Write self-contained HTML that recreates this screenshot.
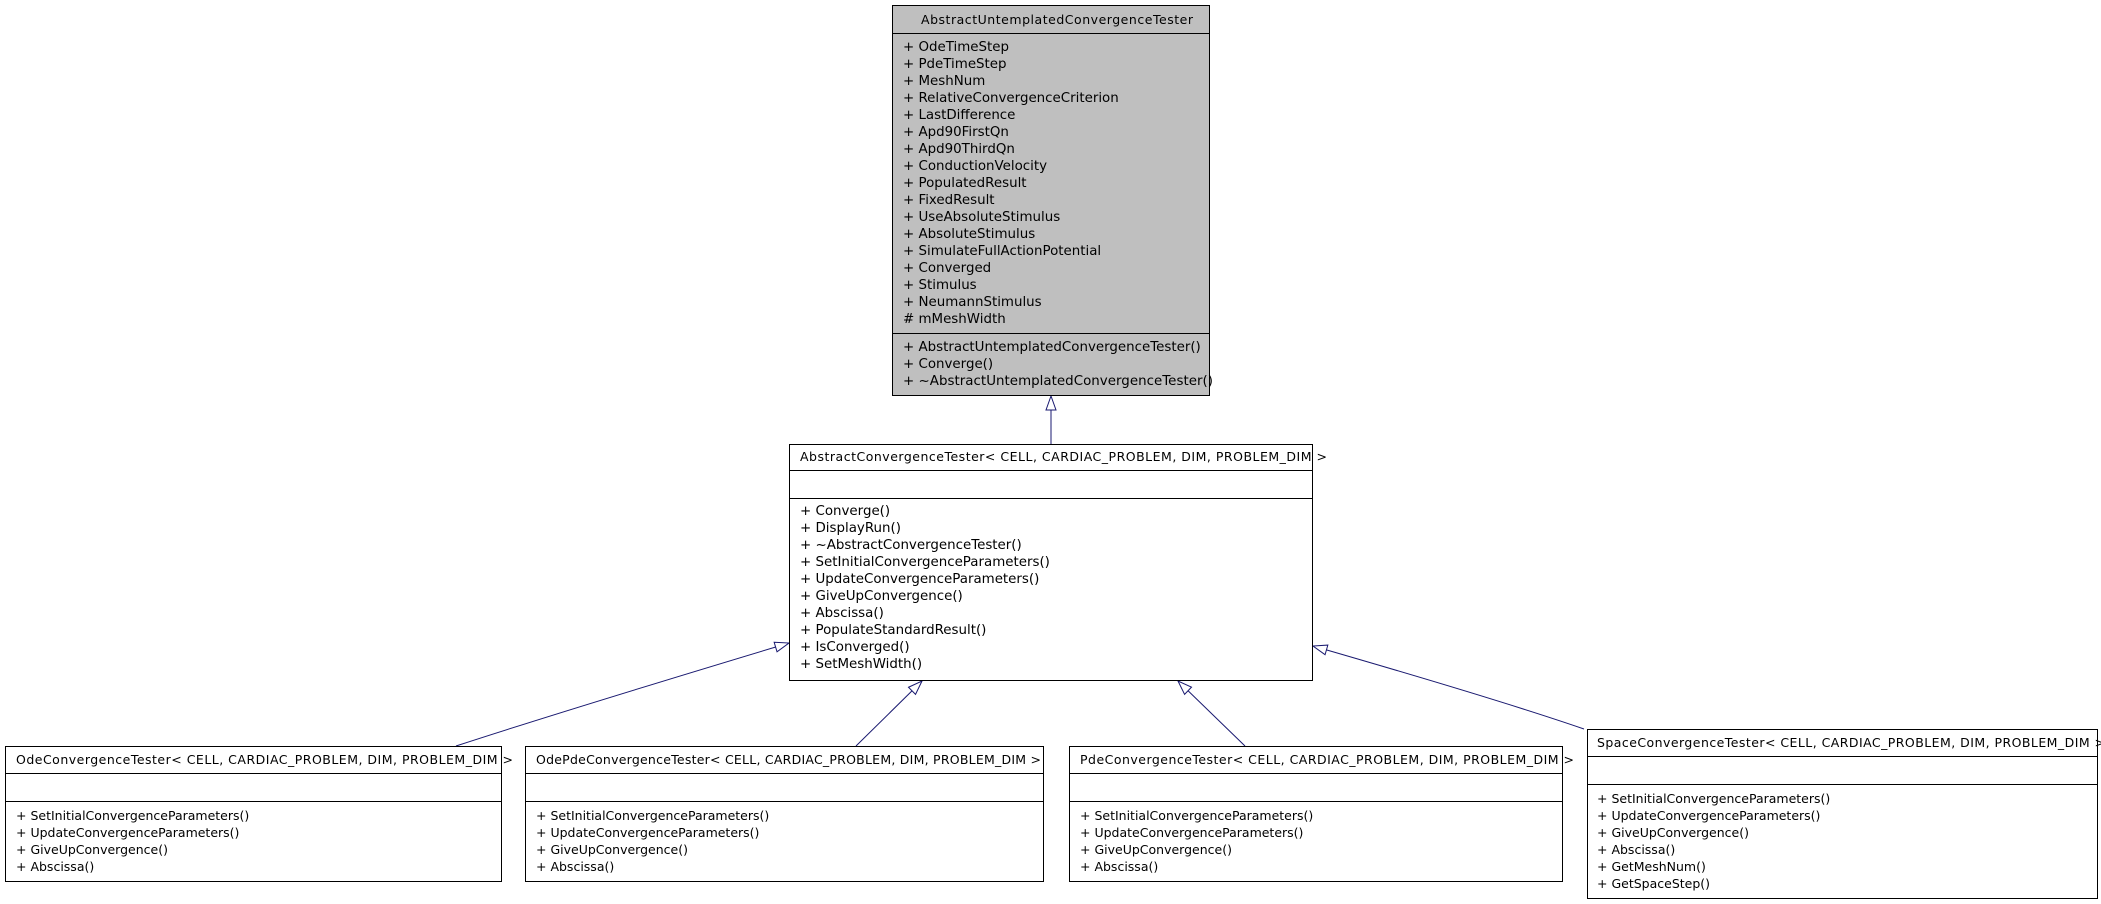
<!DOCTYPE html>
<html><head><meta charset="utf-8"><style>
html,body{margin:0;padding:0;background:#fff;}
svg{display:block;}
text{font-family:"DejaVu Sans","Liberation Sans",sans-serif;font-size:12.5px;fill:#000;}
.big text{font-size:13.4px;}
</style></head><body>
<svg width="2101" height="904" viewBox="0 0 2101 904" xmlns="http://www.w3.org/2000/svg">
<defs>
<marker id="ah" markerWidth="16" markerHeight="12" refX="15" refY="6" orient="auto" markerUnits="userSpaceOnUse">
<path d="M1,1 L15,6 L1,11 Z" fill="#fff" stroke="#191970" stroke-width="1"/>
</marker>
</defs>
<g stroke="#191970" stroke-width="1" fill="none">
<line x1="1051" y1="444" x2="1051" y2="396" marker-end="url(#ah)"/>
<path d="M456,746 Q560,712 789,643" marker-end="url(#ah)"/>
<line x1="856" y1="746" x2="922" y2="681" marker-end="url(#ah)"/>
<line x1="1245" y1="746" x2="1178" y2="681" marker-end="url(#ah)"/>
<path d="M1584,729 Q1500,700 1313,646" marker-end="url(#ah)"/>
</g>
<rect x="892.5" y="5.5" width="317" height="390" fill="#bfbfbf" stroke="#000"/>
<line x1="892" y1="33.5" x2="1210" y2="33.5" stroke="#000"/>
<line x1="892" y1="333.5" x2="1210" y2="333.5" stroke="#000"/>
<text x="921" y="24" textLength="272">AbstractUntemplatedConvergenceTester</text>
<g class="big">
<text x="903" y="51">+ OdeTimeStep</text>
<text x="903" y="68">+ PdeTimeStep</text>
<text x="903" y="85">+ MeshNum</text>
<text x="903" y="102">+ RelativeConvergenceCriterion</text>
<text x="903" y="119">+ LastDifference</text>
<text x="903" y="136">+ Apd90FirstQn</text>
<text x="903" y="153">+ Apd90ThirdQn</text>
<text x="903" y="170">+ ConductionVelocity</text>
<text x="903" y="187">+ PopulatedResult</text>
<text x="903" y="204">+ FixedResult</text>
<text x="903" y="221">+ UseAbsoluteStimulus</text>
<text x="903" y="238">+ AbsoluteStimulus</text>
<text x="903" y="255">+ SimulateFullActionPotential</text>
<text x="903" y="272">+ Converged</text>
<text x="903" y="289">+ Stimulus</text>
<text x="903" y="306">+ NeumannStimulus</text>
<text x="903" y="323"># mMeshWidth</text>
<text x="903" y="351">+ AbstractUntemplatedConvergenceTester()</text>
<text x="903" y="368">+ Converge()</text>
<text x="903" y="385" textLength="310">+ ~AbstractUntemplatedConvergenceTester()</text>
</g>
<rect x="789.5" y="444.5" width="523" height="236" fill="#fff" stroke="#000"/>
<line x1="789" y1="470.5" x2="1313" y2="470.5" stroke="#000"/>
<line x1="789" y1="498.5" x2="1313" y2="498.5" stroke="#000"/>
<text x="800" y="461" textLength="527">AbstractConvergenceTester&lt; CELL, CARDIAC_PROBLEM, DIM, PROBLEM_DIM &gt;</text>
<g class="big">
<text x="800" y="515">+ Converge()</text>
<text x="800" y="532">+ DisplayRun()</text>
<text x="800" y="549">+ ~AbstractConvergenceTester()</text>
<text x="800" y="566">+ SetInitialConvergenceParameters()</text>
<text x="800" y="583">+ UpdateConvergenceParameters()</text>
<text x="800" y="600">+ GiveUpConvergence()</text>
<text x="800" y="617">+ Abscissa()</text>
<text x="800" y="634">+ PopulateStandardResult()</text>
<text x="800" y="651">+ IsConverged()</text>
<text x="800" y="668">+ SetMeshWidth()</text>
</g>
<rect x="5.5" y="746.5" width="496" height="135" fill="#fff" stroke="#000"/>
<line x1="5" y1="773.5" x2="502" y2="773.5" stroke="#000"/>
<line x1="5" y1="801.5" x2="502" y2="801.5" stroke="#000"/>
<text x="16" y="764" textLength="497">OdeConvergenceTester&lt; CELL, CARDIAC_PROBLEM, DIM, PROBLEM_DIM &gt;</text>
<text x="16" y="820">+ SetInitialConvergenceParameters()</text>
<text x="16" y="837">+ UpdateConvergenceParameters()</text>
<text x="16" y="854">+ GiveUpConvergence()</text>
<text x="16" y="871">+ Abscissa()</text>
<rect x="525.5" y="746.5" width="518" height="135" fill="#fff" stroke="#000"/>
<line x1="525" y1="773.5" x2="1044" y2="773.5" stroke="#000"/>
<line x1="525" y1="801.5" x2="1044" y2="801.5" stroke="#000"/>
<text x="536" y="764" textLength="505">OdePdeConvergenceTester&lt; CELL, CARDIAC_PROBLEM, DIM, PROBLEM_DIM &gt;</text>
<text x="536" y="820">+ SetInitialConvergenceParameters()</text>
<text x="536" y="837">+ UpdateConvergenceParameters()</text>
<text x="536" y="854">+ GiveUpConvergence()</text>
<text x="536" y="871">+ Abscissa()</text>
<rect x="1069.5" y="746.5" width="493" height="135" fill="#fff" stroke="#000"/>
<line x1="1069" y1="773.5" x2="1563" y2="773.5" stroke="#000"/>
<line x1="1069" y1="801.5" x2="1563" y2="801.5" stroke="#000"/>
<text x="1080" y="764" textLength="494">PdeConvergenceTester&lt; CELL, CARDIAC_PROBLEM, DIM, PROBLEM_DIM &gt;</text>
<text x="1080" y="820">+ SetInitialConvergenceParameters()</text>
<text x="1080" y="837">+ UpdateConvergenceParameters()</text>
<text x="1080" y="854">+ GiveUpConvergence()</text>
<text x="1080" y="871">+ Abscissa()</text>
<rect x="1587.5" y="729.5" width="510" height="169" fill="#fff" stroke="#000"/>
<line x1="1587" y1="756.5" x2="2098" y2="756.5" stroke="#000"/>
<line x1="1587" y1="784.5" x2="2098" y2="784.5" stroke="#000"/>
<text x="1597" y="747" textLength="508">SpaceConvergenceTester&lt; CELL, CARDIAC_PROBLEM, DIM, PROBLEM_DIM &gt;</text>
<text x="1597" y="803">+ SetInitialConvergenceParameters()</text>
<text x="1597" y="820">+ UpdateConvergenceParameters()</text>
<text x="1597" y="837">+ GiveUpConvergence()</text>
<text x="1597" y="854">+ Abscissa()</text>
<text x="1597" y="871">+ GetMeshNum()</text>
<text x="1597" y="888">+ GetSpaceStep()</text>
</svg>
</body></html>
